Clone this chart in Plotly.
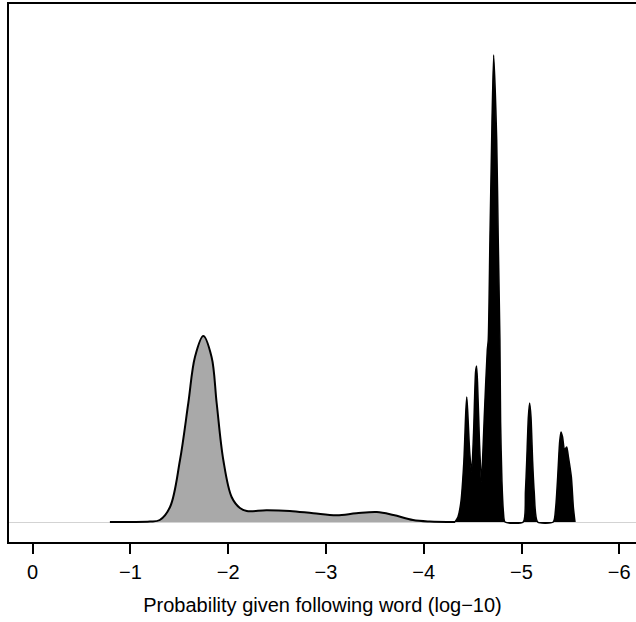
import plotly.graph_objects as go

# Grey density: log10 probability vs density
grey_x = [-0.79, -1.00, -1.20, -1.30, -1.405, -1.507, -1.592, -1.66, -1.745, -1.83,
          -1.882, -1.95, -2.035, -2.12, -2.19, -2.39, -2.63, -2.87, -3.11, -3.31,
          -3.52, -3.69, -3.89, -4.06, -4.32]
grey_y = [0.0, 0.0, 0.004, 0.02, 0.15, 0.62, 1.19, 1.65, 1.86, 1.65,
          1.19, 0.62, 0.25, 0.14, 0.11, 0.117, 0.11, 0.087, 0.067, 0.087,
          0.10, 0.07, 0.02, 0.005, 0.0]

# Black density
black_x = [-4.32, -4.35, -4.38, -4.41, -4.43, -4.44, -4.45, -4.47, -4.49, -4.51,
           -4.53, -4.54, -4.55, -4.57, -4.59, -4.605, -4.619, -4.65, -4.66, -4.677,
           -4.695, -4.715, -4.746, -4.762, -4.779, -4.786, -4.80, -4.815, -4.831,
           -5.018, -5.04, -5.053, -5.07, -5.083, -5.097, -5.114, -5.13, -5.165,
           -5.325, -5.35, -5.37, -5.39, -5.404, -5.42, -5.44, -5.462, -5.48, -5.51,
           -5.53, -5.547]
black_y = [0.0, 0.05, 0.2, 0.6, 1.1, 1.25, 1.1, 0.7, 0.50, 0.9,
           1.5, 1.56, 1.4, 0.8, 0.40, 0.7, 1.05, 1.72, 1.82, 2.82,
           3.82, 4.67, 3.82, 2.82, 1.82, 1.0, 0.4, 0.1, 0.0,
           0.0, 0.3, 0.6, 1.05, 1.19, 1.05, 0.6, 0.3, 0.0,
           0.0, 0.15, 0.45, 0.8, 0.90, 0.85, 0.72, 0.75, 0.65, 0.45,
           0.15, 0.0]

tick_vals = [0, -1, -2, -3, -4, -5, -6]
tick_text = ["0", "\u22121", "\u22122", "\u22123", "\u22124", "\u22125", "\u22126"]
x_title = "Probability given following word (log\u221210)"

fig = go.Figure()
fig.add_trace(go.Scatter(
    x=grey_x, y=grey_y, mode="lines", fill="toself", fillcolor="#a9a9a9",
    line=dict(color="black", width=2, shape="spline", smoothing=1.0),
    hoverinfo="skip", showlegend=False))
fig.add_trace(go.Scatter(
    x=black_x, y=black_y, mode="lines", fill="toself", fillcolor="black",
    line=dict(color="black", width=1.5, shape="spline", smoothing=0.6),
    hoverinfo="skip", showlegend=False))

fig.update_layout(
    width=636, height=622,
    margin=dict(l=9, r=0, t=4, b=80, autoexpand=False),
    paper_bgcolor="white", plot_bgcolor="white",
    font=dict(family="Liberation Sans, Arial, sans-serif", size=20, color="black"),
    xaxis=dict(
        range=[0.242, -6.171], tickvals=tick_vals, ticktext=tick_text,
        showgrid=False, zeroline=False,
        showline=True, linecolor="black", linewidth=2, mirror=True,
        ticks="outside", ticklen=10, tickwidth=1.5, tickcolor="black",
        ticklabelstandoff=1,
        title=dict(text=x_title, standoff=16, font=dict(size=20)),
    ),
    yaxis=dict(
        range=[-0.2, 5.18], showticklabels=False, ticks="", showgrid=False,
        zeroline=True, zerolinecolor="#d3d3d3", zerolinewidth=1,
        showline=True, linecolor="black", linewidth=2,
    ),
)

fig.write_html("out.html", config={"displayModeBar": False},
               post_script="document.body.style.margin='0';document.body.style.overflow='hidden';")
